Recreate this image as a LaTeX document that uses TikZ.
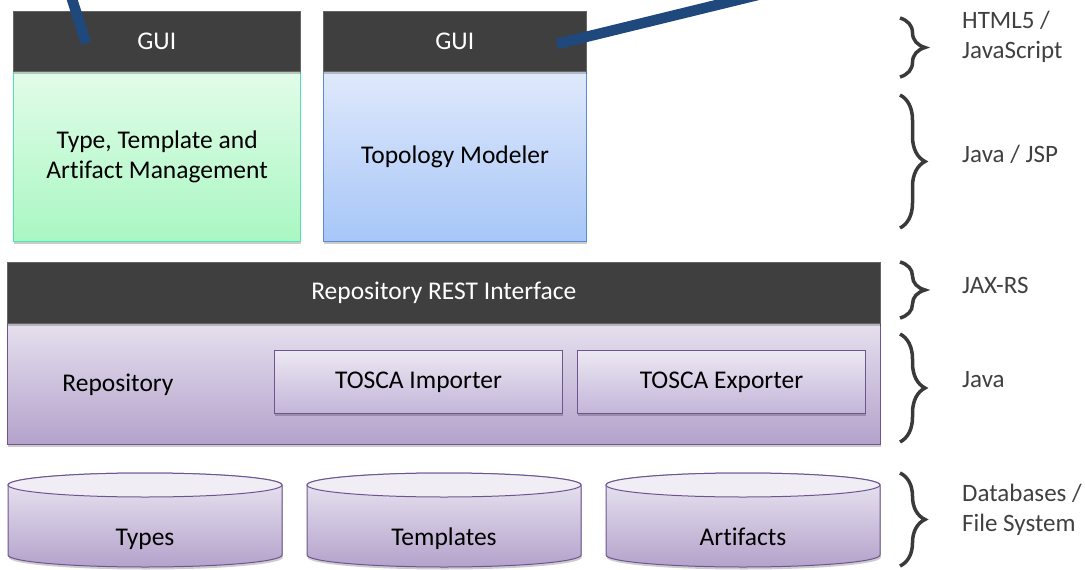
\documentclass[tikz,border=0pt]{standalone}
\usepackage{fontspec}
\setmainfont[Ligatures=NoCommon]{Carlito}
\usetikzlibrary{shadows,decorations.pathreplacing}
\definecolor{darkbar}{RGB}{63,63,63}
\definecolor{greentop}{RGB}{226,252,233}
\definecolor{greenbot}{RGB}{169,247,194}
\definecolor{greenline}{RGB}{80,228,178}
\definecolor{bluetop}{RGB}{223,233,251}
\definecolor{bluebot}{RGB}{167,198,248}
\definecolor{blueline}{RGB}{90,139,208}
\definecolor{purptop}{RGB}{229,224,238}
\definecolor{purpbot}{RGB}{180,162,203}
\definecolor{purpline}{RGB}{111,85,144}
\definecolor{subtop}{RGB}{236,232,243}
\definecolor{subbot}{RGB}{195,181,216}
\definecolor{wire}{RGB}{31,73,125}
\definecolor{bracegray}{RGB}{58,58,58}
\definecolor{labelgray}{RGB}{64,64,64}
\newcommand\dbcyl[4]{%
  \pgfmathsetmacro\cylcx{#1+#2/2}%
  \pgfmathsetmacro\cylrx{#2/2}%
  \pgfmathsetmacro\cylkx{0.5523*#2/2}%
  \pgfmathsetmacro\cylxr{#1+#2}%
  \path[dbfill] (#1,485) -- (#1,555) .. controls (#1,561.6) and (\cylcx-\cylkx,567) .. (\cylcx,567)
     .. controls (\cylcx+\cylkx,567) and (\cylxr,561.6) .. (\cylxr,555) -- (\cylxr,485)
     .. controls (\cylxr,478.4) and (\cylcx+\cylkx,473) .. (\cylcx,473)
     .. controls (\cylcx-\cylkx,473) and (#1,478.4) .. (#1,485) -- cycle;
  \draw[dbtop] (\cylcx,485) ellipse[x radius=\cylrx, y radius=12];
  \node[dbtext] (#3) at (\cylcx,545) {#4};
}
\begin{document}
\begin{tikzpicture}[x=1pt,y=-1pt,
  shadowed/.style={drop shadow={shadow xshift=0.8pt,shadow yshift=-2.5pt,opacity=0.2,fill=black}},
  bar/.style={shadowed,fill=darkbar,draw=darkbar!80!white,line width=0.6pt,anchor=north west,inner sep=0pt,
     text=white,font=\fontsize{25.5}{30}\selectfont},
  body/.style={shadowed,anchor=north west,inner sep=0pt,line width=1.2pt,align=center,
     font=\fontsize{25.5}{29.5}\selectfont},
  sub/.style={shadowed,anchor=north west,inner sep=0pt,line width=1pt,draw=purpline,
     top color=subtop,bottom color=subbot,font=\fontsize{25.5}{30}\selectfont},
  dbfill/.style={shadowed,draw=purpline,line width=1pt,top color=subtop,bottom color=purpbot},
  dbtop/.style={draw=purpline,line width=1pt,fill=subtop!80!white},
  dbtext/.style={anchor=base,inner sep=0pt,font=\fontsize{25.5}{30}\selectfont},
  lbl/.style={anchor=west,inner sep=0pt,align=left,text=labelgray,font=\fontsize{25}{30}\selectfont},
  brc/.style={decorate,decoration={brace,amplitude=25pt,aspect=0.5},line width=3.5pt,draw=bracegray},
  wireline/.style={draw=wire,line width=10.5pt}]
\useasboundingbox (0,0) rectangle (1085,570);
% upper components
\node[body,draw=greenline,top color=greentop,bottom color=greenbot,minimum width=287pt,minimum height=170pt] (mgmt) at (13,71) {Type, Template and\\Artifact Management};
\node[bar,minimum width=287pt,minimum height=60pt] (gui1) at (13,11) {GUI};
\node[body,draw=blueline,top color=bluetop,bottom color=bluebot,minimum width=263pt,minimum height=170pt] (topo) at (323,71) {Topology Modeler};
\node[bar,minimum width=263pt,minimum height=60pt] (gui2) at (323,11) {GUI};
% repository
\node[body,draw=purpline,line width=1pt,top color=purptop,bottom color=purpbot,minimum width=873pt,minimum height=121pt] (repo) at (7,323) {};
\node[bar,minimum width=873pt,minimum height=61pt] (rest) at (7,262) {Repository REST Interface};
\node[font=\fontsize{25.5}{30}\selectfont,inner sep=0pt] (repolbl) at (118,385) {Repository};
\node[sub,minimum width=288pt,minimum height=63pt] (imp) at (274,350) {TOSCA Importer};
\node[sub,minimum width=288pt,minimum height=63pt] (exp) at (577,350) {TOSCA Exporter};
% storage
\dbcyl{8}{274}{types}{Types}
\dbcyl{307}{274}{templates}{Templates}
\dbcyl{606}{274}{artifacts}{Artifacts}
% wires
\coordinate (w1a) at (71,-4);
\coordinate (w1b) at (86,43);
\coordinate (w2a) at (770,-8);
\coordinate (w2b) at (557,44);
\draw[wireline] (w1a) -- (w1b);
\draw[wireline] (w2a) -- (w2b);
% braces
\coordinate (b1a) at (900,18);  \coordinate (b1b) at (900,77);
\coordinate (b2a) at (900,95);  \coordinate (b2b) at (900,228);
\coordinate (b3a) at (900,262); \coordinate (b3b) at (900,318);
\coordinate (b4a) at (900,334); \coordinate (b4b) at (900,442);
\coordinate (b5a) at (900,473); \coordinate (b5b) at (900,566);
\draw[brc] (b1a) -- (b1b);
\draw[brc] (b2a) -- (b2b);
\draw[brc] (b3a) -- (b3b);
\draw[brc] (b4a) -- (b4b);
\draw[brc] (b5a) -- (b5b);
% labels
\node[lbl] (l1) at (962,37) {HTML5 /\\JavaScript};
\node[lbl] (l2) at (962,154) {Java / JSP};
\node[lbl] (l3) at (962,285) {JAX-RS};
\node[lbl] (l4) at (962,380) {Java};
\node[lbl] (l5) at (962,510) {Databases /\\File System};
\end{tikzpicture}
\end{document}
